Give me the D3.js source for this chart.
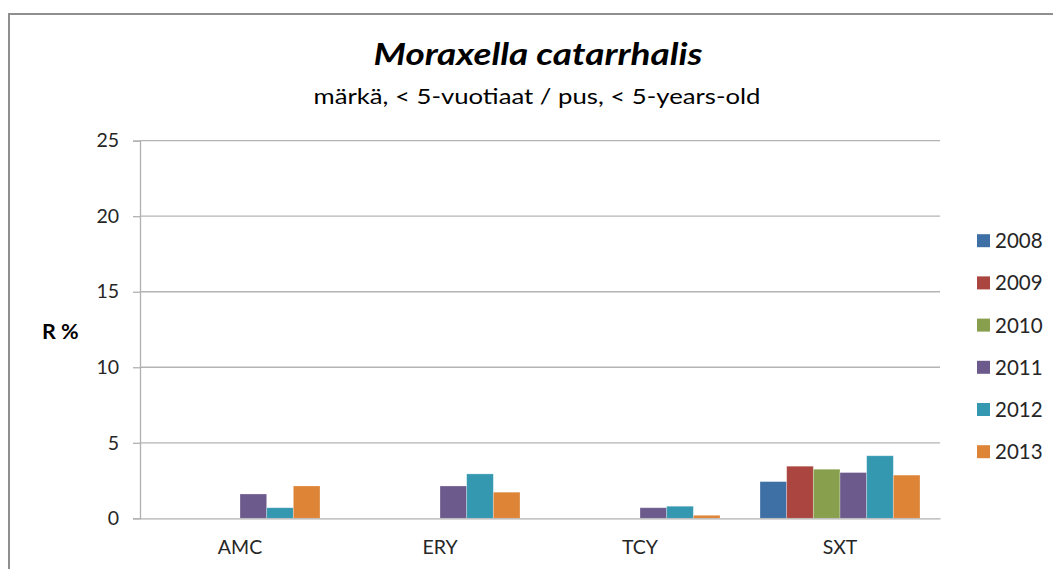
<!DOCTYPE html>
<html>
<head>
<meta charset="utf-8">
<script src="https://cdn.jsdelivr.net/npm/d3@7"></script>
<style>
  html, body { margin: 0; padding: 0; background: #ffffff; }
  svg { display: block; }
  text { font-family: Lato, "Open Sans", "Liberation Sans", sans-serif; }
</style>
</head>
<body>
<svg id="chart" width="1053" height="569"></svg>
<script>
const categories = ["AMC", "ERY", "TCY", "SXT"];
const years = ["2008", "2009", "2010", "2011", "2012", "2013"];
const colors = ["#3F70A5", "#AA4540", "#88A04E", "#6D5A8D", "#3598B1", "#DE8437"];
// values per year, in category order AMC, ERY, TCY, SXT (null = no bar)
const v2008 = [null, null, null, 2.43];
const v2009 = [null, null, null, 3.45];
const v2010 = [null, null, null, 3.25];
const v2011 = [1.61, 2.14, 0.70, 3.03];
const v2012 = [0.70, 2.94, 0.80, 4.14];
const v2013 = [2.14, 1.73, 0.20, 2.86];
const yTicks = [0, 5, 10, 15, 20, 25];
const titleText = "Moraxella catarrhalis";
const subtitleText = "märkä, < 5-vuotiaat / pus, < 5-years-old";
const yLabel = "R %";

const seriesValues = [v2008, v2009, v2010, v2011, v2012, v2013];

const svg = d3.select("#chart");

// outer chart border (top and left visible)
svg.append("path")
  .attr("d", "M9,575 L9,14 L1060,14")
  .attr("fill", "none")
  .attr("stroke", "#8f8f8f")
  .attr("stroke-width", 2);

const plot = { left: 140, right: 940, top: 140.7, bottom: 518.3 };

const x = d3.scaleBand().domain(categories).range([plot.left, plot.right]).padding(0);
const inner = d3.scaleBand().domain(years)
  .range([x.bandwidth() * 0.1, x.bandwidth() * 0.9]).padding(0);
const y = d3.scaleLinear().domain([0, 25]).range([plot.bottom, plot.top]);

// gridlines
svg.append("g")
  .selectAll("line")
  .data(yTicks.filter(t => t > 0))
  .join("line")
  .attr("x1", plot.left).attr("x2", plot.right)
  .attr("y1", d => y(d)).attr("y2", d => y(d))
  .attr("stroke", "#b4b4b4").attr("stroke-width", 1.3);

// y axis
const yAxis = d3.axisLeft(y).tickValues(yTicks).tickSize(7).tickPadding(14).tickFormat(d3.format("d"));
const gy = svg.append("g").attr("transform", `translate(${plot.left},0)`).call(yAxis);
gy.select(".domain").attr("stroke", "#b0b0b0").attr("stroke-width", 1.3);
gy.selectAll(".tick line").attr("stroke", "#b0b0b0").attr("stroke-width", 1.3);
gy.selectAll(".tick text")
  .attr("font-size", 19.5)
  .attr("fill", "#262626")
  .attr("font-family", "Lato, 'Open Sans', sans-serif");

// bars
const groups = svg.append("g").selectAll("g")
  .data(years.map((yr, i) => ({ yr, color: colors[i], vals: seriesValues[i] })))
  .join("g")
  .attr("fill", d => d.color);

groups.selectAll("rect")
  .data(d => categories.map((c, j) => ({ c, yr: d.yr, v: d.vals[j] })).filter(e => e.v != null))
  .join("rect")
  .attr("x", d => x(d.c) + inner(d.yr))
  .attr("width", inner.bandwidth())
  .attr("y", d => y(d.v))
  .attr("height", d => y(0) - y(d.v))
  .attr("stroke", "rgba(255,255,255,0.35)")
  .attr("stroke-width", 0.8);

// x axis baseline
const xAxis = d3.axisBottom(x).tickSize(0).tickPadding(22);
const gx = svg.append("g").attr("transform", `translate(0,${plot.bottom})`).call(xAxis);
gx.select(".domain").attr("stroke", "#b0b0b0").attr("stroke-width", 1.3);
gx.selectAll(".tick text")
  .attr("font-size", 19.5)
  .attr("fill", "#262626")
  .attr("font-family", "Lato, 'Open Sans', sans-serif");

// titles
svg.append("text")
  .attr("x", 538).attr("y", 65)
  .attr("text-anchor", "middle")
  .attr("font-size", 31)
  .attr("font-weight", "bold")
  .attr("font-style", "italic")
  .attr("fill", "#000")
  .attr("textLength", 329)
  .attr("lengthAdjust", "spacingAndGlyphs")
  .text(titleText);

svg.append("text")
  .attr("x", 537).attr("y", 104)
  .attr("text-anchor", "middle")
  .attr("font-size", 22)
  .attr("fill", "#000")
  .attr("textLength", 447)
  .attr("lengthAdjust", "spacingAndGlyphs")
  .text(subtitleText);

// y label
svg.append("text")
  .attr("x", 42).attr("y", 339)
  .attr("font-size", 21.5)
  .attr("font-weight", "bold")
  .attr("fill", "#000")
  .text(yLabel);

// legend
const legend = svg.append("g").attr("transform", "translate(977,0)");
const lg = legend.selectAll("g")
  .data(years.map((yr, i) => ({ yr, color: colors[i] })))
  .join("g")
  .attr("transform", (d, i) => `translate(0,${240.7 + i * 42.2})`);
lg.append("rect")
  .attr("x", 0).attr("y", -6.5)
  .attr("width", 13).attr("height", 13)
  .attr("fill", d => d.color);
lg.append("text")
  .attr("x", 18).attr("y", 7.5)
  .attr("font-size", 20.5)
  .attr("fill", "#262626")
  .text(d => d.yr);
</script>
</body>
</html>
